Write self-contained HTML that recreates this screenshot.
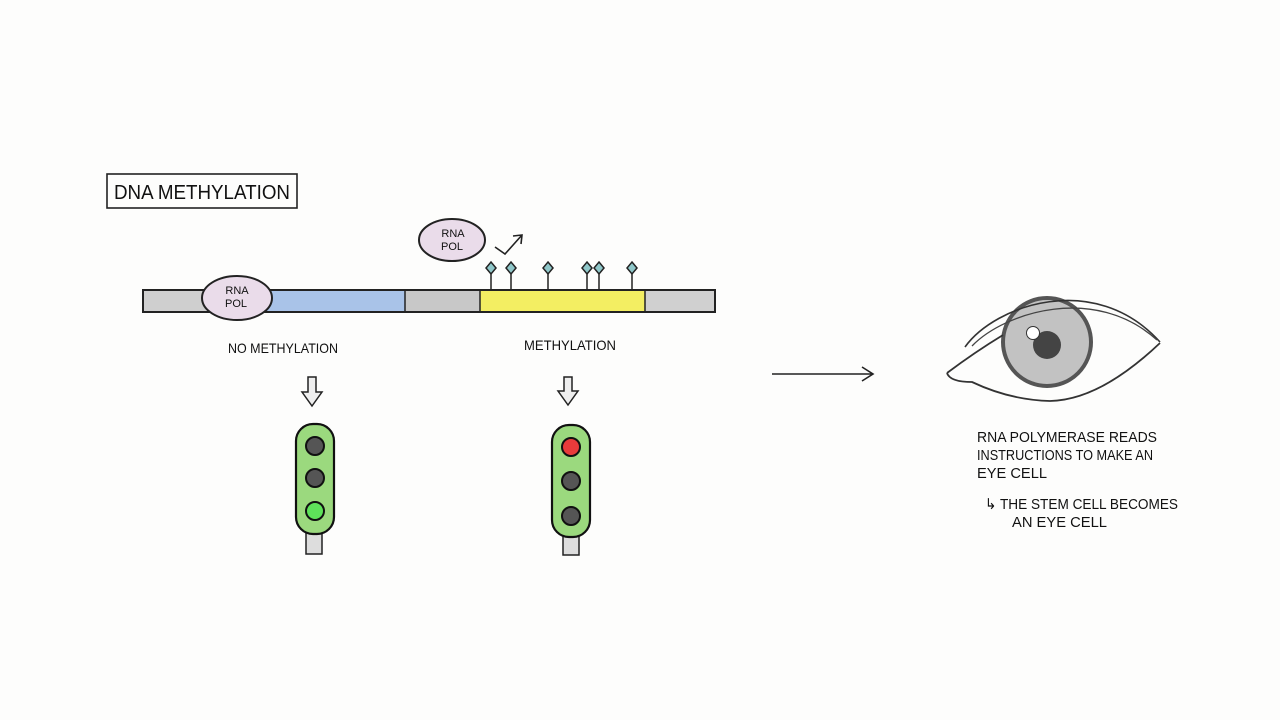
<!DOCTYPE html>
<html><head><meta charset="utf-8"><style>
html,body{margin:0;padding:0;background:#fff}
svg{display:block}
text{font-family:"Liberation Sans Narrow","Liberation Sans",sans-serif;fill:#111}
</style></head><body>
<svg width="1280" height="720" viewBox="0 0 1280 720" xmlns="http://www.w3.org/2000/svg">
<rect width="1280" height="720" fill="#fdfdfc"/>
<rect x="107" y="174" width="190" height="34" fill="none" stroke="#222" stroke-width="1.6"/>
<text x="202" y="199" font-size="20" text-anchor="middle" textLength="176" lengthAdjust="spacingAndGlyphs">DNA METHYLATION</text>
<rect x="143" y="290" width="124" height="22" fill="#cfcfcf"/>
<rect x="267" y="290" width="138" height="22" fill="#a9c3e8"/>
<rect x="405" y="290" width="75" height="22" fill="#c8c8c8"/>
<rect x="480" y="290" width="165" height="22" fill="#f3ee62"/>
<rect x="645" y="290" width="70" height="22" fill="#d0d0d0"/>
<rect x="143" y="290" width="572" height="22" fill="none" stroke="#222" stroke-width="2"/>
<line x1="405" y1="290" x2="405" y2="312" stroke="#222" stroke-width="1.5"/>
<line x1="480" y1="290" x2="480" y2="312" stroke="#222" stroke-width="1.5"/>
<line x1="645" y1="290" x2="645" y2="312" stroke="#222" stroke-width="1.5"/>
<ellipse cx="237" cy="298" rx="35" ry="22" fill="#eadcea" stroke="#222" stroke-width="2"/>
<text x="237" y="294" font-size="11" text-anchor="middle">RNA</text>
<text x="236" y="307" font-size="11" text-anchor="middle">POL</text>
<ellipse cx="452" cy="240" rx="33" ry="21" fill="#eadcea" stroke="#222" stroke-width="2"/>
<text x="453" y="237" font-size="11" text-anchor="middle">RNA</text>
<text x="452" y="250" font-size="11" text-anchor="middle">POL</text>
<path d="M495 247 L505 254 L522 235 M513 236 L522 235 L521 244" fill="none" stroke="#222" stroke-width="1.6"/>
<g stroke="#222" stroke-width="1.5" fill="#8fc7c9">
<line x1="491" y1="272" x2="491" y2="290"/><path d="M491 262 L496 268 L491 274 L486 268Z"/>
<line x1="511" y1="272" x2="511" y2="290"/><path d="M511 262 L516 268 L511 274 L506 268Z"/>
<line x1="548" y1="272" x2="548" y2="290"/><path d="M548 262 L553 268 L548 274 L543 268Z"/>
<line x1="587" y1="272" x2="587" y2="290"/><path d="M587 262 L592 268 L587 274 L582 268Z"/>
<line x1="599" y1="272" x2="599" y2="290"/><path d="M599 262 L604 268 L599 274 L594 268Z"/>
<line x1="632" y1="272" x2="632" y2="290"/><path d="M632 262 L637 268 L632 274 L627 268Z"/>
</g>
<text x="283" y="353" font-size="14" text-anchor="middle" textLength="110" lengthAdjust="spacingAndGlyphs">NO METHYLATION</text>
<text x="570" y="350" font-size="14" text-anchor="middle" textLength="92" lengthAdjust="spacingAndGlyphs">METHYLATION</text>
<path d="M308 377 L316 377 L316 392 L322 392 L312 406 L302 392 L308 392Z" fill="#eee" stroke="#222" stroke-width="1.5"/>
<path d="M564 377 L572 377 L572 391 L578 391 L568 405 L558 391 L564 391Z" fill="#eee" stroke="#222" stroke-width="1.5"/>
<rect x="306" y="532" width="16" height="22" fill="#ddd" stroke="#222" stroke-width="1.5"/>
<rect x="296" y="424" width="38" height="110" rx="17" fill="#9bd97e" stroke="#111" stroke-width="2.2"/>
<circle cx="315" cy="446" r="9" fill="#555" stroke="#111" stroke-width="2"/>
<circle cx="315" cy="478" r="9" fill="#555" stroke="#111" stroke-width="2"/>
<circle cx="315" cy="511" r="9" fill="#5ee25a" stroke="#111" stroke-width="2"/>
<rect x="563" y="535" width="16" height="20" fill="#ddd" stroke="#222" stroke-width="1.5"/>
<rect x="552" y="425" width="38" height="112" rx="17" fill="#9bd97e" stroke="#111" stroke-width="2.2"/>
<circle cx="571" cy="447" r="9" fill="#e83b3b" stroke="#111" stroke-width="2"/>
<circle cx="571" cy="481" r="9" fill="#555" stroke="#111" stroke-width="2"/>
<circle cx="571" cy="516" r="9" fill="#555" stroke="#111" stroke-width="2"/>
<path d="M772 374 L872 374 M862 367 L873 374 L862 381" fill="none" stroke="#222" stroke-width="1.6"/>
<!-- eye -->
<circle cx="1047" cy="342" r="44" fill="#c2c2c2" stroke="#555" stroke-width="4"/>
<circle cx="1047" cy="345" r="14" fill="#444"/>
<circle cx="1033" cy="333" r="6.5" fill="#fff" stroke="#333" stroke-width="1"/>
<path d="M965 347 C995 305 1095 270 1160 342" fill="none" stroke="#333" stroke-width="1.6"/>
<path d="M972 346 C1005 312 1095 284 1157 340" fill="none" stroke="#444" stroke-width="1.3"/>
<path d="M947 373 Q975 352 1003 335" fill="none" stroke="#333" stroke-width="1.8"/>
<path d="M947 373 Q950 382 972 382 Q1010 400 1050 401 Q1100 400 1160 343" fill="none" stroke="#333" stroke-width="1.8"/>
<g font-size="15">
<text x="977" y="442" textLength="180" lengthAdjust="spacingAndGlyphs">RNA POLYMERASE READS</text>
<text x="977" y="460" textLength="176" lengthAdjust="spacingAndGlyphs">INSTRUCTIONS TO MAKE AN</text>
<text x="977" y="478" textLength="70" lengthAdjust="spacingAndGlyphs">EYE CELL</text>
<text x="985" y="509" textLength="193" lengthAdjust="spacingAndGlyphs">↳ THE STEM CELL BECOMES</text>
<text x="1012" y="527" textLength="95" lengthAdjust="spacingAndGlyphs">AN EYE CELL</text>
</g>
</svg>
</body></html>
